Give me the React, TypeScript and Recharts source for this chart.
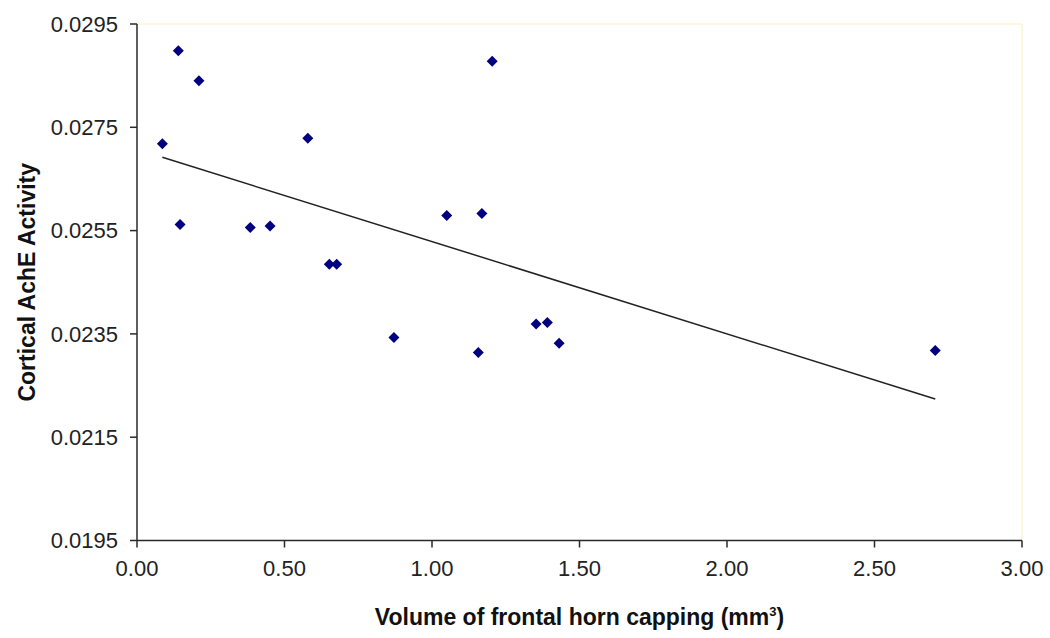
import { ScatterChart, Scatter, XAxis, YAxis, ReferenceLine } from 'recharts'

// volume of frontal horn capping (mm3) vs cortical AchE activity
const volume = [0.086, 0.14, 0.21, 0.579, 0.146, 0.384, 0.451, 0.652, 0.677, 1.204, 1.05, 1.169, 0.871, 1.157, 1.353, 1.391, 1.431, 2.706]
const activity = [0.02718, 0.02898, 0.0284, 0.02729, 0.02562, 0.02556, 0.02559, 0.02485, 0.02485, 0.02878, 0.02579, 0.02583, 0.02343, 0.02314, 0.02369, 0.02372, 0.02332, 0.02318]

// linear trend line endpoints
const trendX = [0.086, 2.706]
const trendY = [0.02692, 0.02224]

const xTicks = [0, 0.5, 1, 1.5, 2, 2.5, 3]
const yTicks = [0.0195, 0.0215, 0.0235, 0.0255, 0.0275, 0.0295]

const points = volume.map((v, i) => ({ x: v, y: activity[i] }))
const trend = trendX.map((v, i) => ({ x: v, y: trendY[i] }))

const FONT = 'Arial, "Liberation Sans", sans-serif'
const axisColor = '#2a2a2a'

function Diamond({ cx, cy }: any) {
  const r = 5.5
  return <path d={`M${cx},${cy - r}L${cx + r},${cy}L${cx},${cy + r}L${cx - r},${cy}Z`} fill="#000080" />
}

function YTitle({ viewBox }: any) {
  const x = viewBox.x + 27
  const y = viewBox.y + viewBox.height / 2
  return (
    <text x={x} y={y} transform={`rotate(-90, ${x}, ${y})`} textAnchor="middle" dominantBaseline="central"
      fontFamily={FONT} fontSize={23} fontWeight="bold" fill="#111">
      Cortical AchE Activity
    </text>
  )
}

function XTitle({ viewBox }: any) {
  const x = viewBox.x + viewBox.width / 2
  const y = viewBox.y + 84.5
  return (
    <text x={x} y={y} textAnchor="middle" fontFamily={FONT} fontSize={23} fontWeight="bold" fill="#111">
      <tspan>Volume of frontal horn capping (mm</tspan>
      <tspan dy={-9} fontSize={13}>3</tspan>
      <tspan dy={9}>)</tspan>
    </text>
  )
}

export default function App() {
  const tick = { fontSize: 22, fill: '#222', fontFamily: FONT }
  return (
    <div style={{ position: 'absolute', left: 0, top: 0, width: 1050, height: 638, background: '#fff' }}>
      <ScatterChart width={1050} height={638} margin={{ top: 24, right: 28, bottom: 0, left: 0 }}>
        <XAxis
          type="number"
          dataKey="x"
          domain={[0, 3]}
          ticks={xTicks}
          tickFormatter={(v: number) => v.toFixed(2)}
          height={97.5}
          tick={tick}
          tickSize={7}
          tickMargin={13}
          stroke={axisColor}
          strokeWidth={1.5}
          label={<XTitle />}
        />
        <YAxis
          type="number"
          dataKey="y"
          domain={[0.0195, 0.0295]}
          ticks={yTicks}
          tickFormatter={(v: number) => v.toFixed(4)}
          width={137}
          tick={tick}
          tickSize={7}
          tickMargin={12}
          stroke={axisColor}
          strokeWidth={1.5}
          label={<YTitle />}
        />
        <ReferenceLine y={0.0295} stroke="#fcf8dc" strokeWidth={2} />
        <ReferenceLine x={3} stroke="#fcf8dc" strokeWidth={2} />
        <Scatter data={trend} line={{ stroke: '#222', strokeWidth: 1.5 }} shape={() => <g />} isAnimationActive={false} />
        <Scatter data={points} shape={<Diamond />} isAnimationActive={false} />
      </ScatterChart>
    </div>
  )
}
